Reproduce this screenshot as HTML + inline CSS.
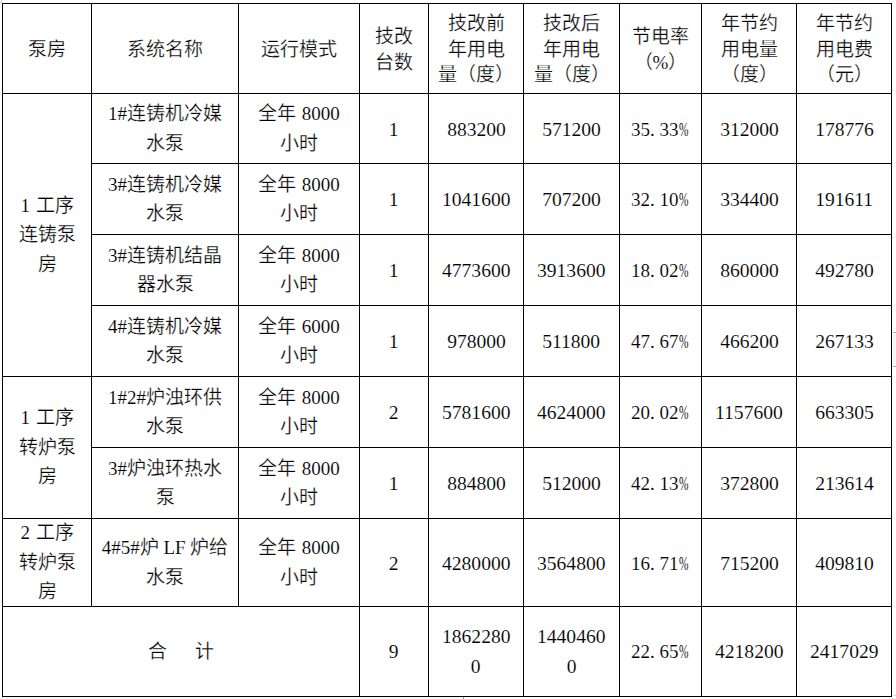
<!DOCTYPE html>
<html lang="zh-CN"><head><meta charset="utf-8">
<style>
html,body{margin:0;padding:0;background:#fff;}
body{width:896px;height:699px;position:relative;overflow:hidden;font-family:"Liberation Serif",serif;font-size:19px;color:#000;-webkit-text-stroke:0.12px #fff;}
.z{-webkit-text-stroke:0.25px #fff;}
.l{position:absolute;background:#000;}
.c{position:absolute;display:flex;flex-direction:column;align-items:center;justify-content:center;white-space:nowrap;}
.n{transform:scaleX(1.03);}
.sp{display:inline-block;width:0.25em;}
.pc{display:inline-block;width:0.5em;transform:scaleX(0.6);transform-origin:left center;}
</style></head><body>
<div class="l" style="left:2px;top:3px;width:890px;height:1px"></div><div class="l" style="left:2px;top:93px;width:890px;height:1px"></div><div class="l" style="left:91px;top:163px;width:801px;height:1px"></div><div class="l" style="left:91px;top:234px;width:801px;height:1px"></div><div class="l" style="left:91px;top:305px;width:801px;height:1px"></div><div class="l" style="left:91px;top:447px;width:801px;height:1px"></div><div class="l" style="left:2px;top:376px;width:890px;height:1px"></div><div class="l" style="left:2px;top:518px;width:890px;height:1px"></div><div class="l" style="left:2px;top:606px;width:890px;height:1px"></div><div class="l" style="left:2px;top:696px;width:890px;height:1px"></div><div class="l" style="left:2px;top:3px;width:1px;height:694px"></div><div style="position:absolute;left:0px;top:1px;width:1px;height:3px;background:#e2e2e2"></div><div style="position:absolute;left:1px;top:0px;width:1px;height:3px;background:#d0d0d0"></div><div style="position:absolute;left:893px;top:333px;width:3px;height:33px;background:#f6f6f6"></div><div style="position:absolute;left:893px;top:332px;width:3px;height:1px;background:#aaaaaa"></div><div style="position:absolute;left:893px;top:366px;width:3px;height:1px;background:#aaaaaa"></div><div style="position:absolute;left:893px;top:695px;width:3px;height:1px;background:#dddddd"></div><div style="position:absolute;left:892px;top:697px;width:1px;height:2px;background:#dddddd"></div><div style="position:absolute;left:0px;top:697px;width:462px;height:2px;background:#f7f7f7"></div><div style="position:absolute;left:463px;top:697px;width:1px;height:2px;background:#999999"></div><div class="l" style="left:91px;top:3px;width:1px;height:604px"></div><div class="l" style="left:238px;top:3px;width:1px;height:604px"></div><div class="l" style="left:359px;top:3px;width:1px;height:694px"></div><div class="l" style="left:428px;top:3px;width:1px;height:694px"></div><div class="l" style="left:523px;top:3px;width:1px;height:694px"></div><div class="l" style="left:619px;top:3px;width:1px;height:694px"></div><div class="l" style="left:701px;top:3px;width:1px;height:694px"></div><div class="l" style="left:796px;top:3px;width:1px;height:694px"></div><div class="l" style="left:891px;top:3px;width:1px;height:694px"></div><div class="c" style="left:3px;top:5px;width:88px;height:89px"><div style="height:25.5px;line-height:25.5px"><span class="z">泵房</span></div></div><div class="c" style="left:92px;top:5px;width:146px;height:89px"><div style="height:25.5px;line-height:25.5px"><span class="z">系统名称</span></div></div><div class="c" style="left:239px;top:5px;width:120px;height:89px"><div style="height:25.5px;line-height:25.5px"><span class="z">运行模式</span></div></div><div class="c" style="left:360px;top:5px;width:68px;height:89px"><div style="height:25.5px;line-height:25.5px"><span class="z">技改</span></div><div style="height:25.5px;line-height:25.5px"><span class="z">台数</span></div></div><div class="c" style="left:429px;top:5px;width:94px;height:89px"><div style="height:25.5px;line-height:25.5px"><span class="z">技改前</span></div><div style="height:25.5px;line-height:25.5px"><span class="z">年用电</span></div><div style="height:25.5px;line-height:25.5px"><span class="z">量（度）</span></div></div><div class="c" style="left:524px;top:5px;width:95px;height:89px"><div style="height:25.5px;line-height:25.5px"><span class="z">技改后</span></div><div style="height:25.5px;line-height:25.5px"><span class="z">年用电</span></div><div style="height:25.5px;line-height:25.5px"><span class="z">量（度）</span></div></div><div class="c" style="left:620px;top:5px;width:81px;height:89px"><div style="height:25.5px;line-height:25.5px"><span class="z">节电率</span></div><div style="height:25.5px;line-height:25.5px"><span class="z">（</span>%<span class="z">）</span></div></div><div class="c" style="left:702px;top:5px;width:94px;height:89px"><div style="height:25.5px;line-height:25.5px"><span class="z">年节约</span></div><div style="height:25.5px;line-height:25.5px"><span class="z">用电量</span></div><div style="height:25.5px;line-height:25.5px"><span class="z">（度）</span></div></div><div class="c" style="left:797px;top:5px;width:94px;height:89px"><div style="height:25.5px;line-height:25.5px"><span class="z">年节约</span></div><div style="height:25.5px;line-height:25.5px"><span class="z">用电费</span></div><div style="height:25.5px;line-height:25.5px"><span class="z">（元）</span></div></div><div class="c" style="left:3px;top:94px;width:88px;height:282px"><div style="height:29.4px;line-height:29.4px">1<span style="display:inline-block;width:5.5px"></span><span class="z">工序</span></div><div style="height:29.4px;line-height:29.4px"><span class="z">连铸泵</span></div><div style="height:29.4px;line-height:29.4px"><span class="z">房</span></div></div><div class="c" style="left:3px;top:377px;width:88px;height:141px"><div style="height:29.4px;line-height:29.4px">1<span style="display:inline-block;width:5.5px"></span><span class="z">工序</span></div><div style="height:29.4px;line-height:29.4px"><span class="z">转炉泵</span></div><div style="height:29.4px;line-height:29.4px"><span class="z">房</span></div></div><div class="c" style="left:3px;top:519px;width:88px;height:87px"><div style="height:29.4px;line-height:29.4px">2<span style="display:inline-block;width:5.5px"></span><span class="z">工序</span></div><div style="height:29.4px;line-height:29.4px"><span class="z">转炉泵</span></div><div style="height:29.4px;line-height:29.4px"><span class="z">房</span></div></div><div class="c" style="left:92px;top:94px;width:146px;height:69px"><div style="height:29.4px;line-height:29.4px">1#<span class="z">连铸机冷媒</span></div><div style="height:29.4px;line-height:29.4px"><span class="z">水泵</span></div></div><div class="c" style="left:239px;top:94px;width:120px;height:69px"><div style="height:29.4px;line-height:29.4px"><span class="z">全年</span><span style="display:inline-block;width:5.5px"></span>8000</div><div style="height:29.4px;line-height:29.4px"><span class="z">小时</span></div></div><div class="c" style="left:360px;top:95px;width:68px;height:69px"><div style="height:29.4px;line-height:29.4px" class="n">1</div></div><div class="c" style="left:429px;top:95px;width:94px;height:69px"><div style="height:29.4px;line-height:29.4px" class="n">883200</div></div><div class="c" style="left:524px;top:95px;width:95px;height:69px"><div style="height:29.4px;line-height:29.4px" class="n">571200</div></div><div class="c" style="left:619px;top:95px;width:81px;height:69px"><div style="height:29.4px;line-height:29.4px">35.<span class="sp"></span>33<span class="pc">%</span></div></div><div class="c" style="left:702px;top:95px;width:94px;height:69px"><div style="height:29.4px;line-height:29.4px" class="n">312000</div></div><div class="c" style="left:797px;top:95px;width:94px;height:69px"><div style="height:29.4px;line-height:29.4px" class="n">178776</div></div><div class="c" style="left:92px;top:164px;width:146px;height:70px"><div style="height:29.4px;line-height:29.4px">3#<span class="z">连铸机冷媒</span></div><div style="height:29.4px;line-height:29.4px"><span class="z">水泵</span></div></div><div class="c" style="left:239px;top:164px;width:120px;height:70px"><div style="height:29.4px;line-height:29.4px"><span class="z">全年</span><span style="display:inline-block;width:5.5px"></span>8000</div><div style="height:29.4px;line-height:29.4px"><span class="z">小时</span></div></div><div class="c" style="left:360px;top:165px;width:68px;height:70px"><div style="height:29.4px;line-height:29.4px" class="n">1</div></div><div class="c" style="left:429px;top:165px;width:94px;height:70px"><div style="height:29.4px;line-height:29.4px" class="n">1041600</div></div><div class="c" style="left:524px;top:165px;width:95px;height:70px"><div style="height:29.4px;line-height:29.4px" class="n">707200</div></div><div class="c" style="left:619px;top:165px;width:81px;height:70px"><div style="height:29.4px;line-height:29.4px">32.<span class="sp"></span>10<span class="pc">%</span></div></div><div class="c" style="left:702px;top:165px;width:94px;height:70px"><div style="height:29.4px;line-height:29.4px" class="n">334400</div></div><div class="c" style="left:797px;top:165px;width:94px;height:70px"><div style="height:29.4px;line-height:29.4px" class="n">191611</div></div><div class="c" style="left:92px;top:235px;width:146px;height:70px"><div style="height:29.4px;line-height:29.4px">3#<span class="z">连铸机结晶</span></div><div style="height:29.4px;line-height:29.4px"><span class="z">器水泵</span></div></div><div class="c" style="left:239px;top:235px;width:120px;height:70px"><div style="height:29.4px;line-height:29.4px"><span class="z">全年</span><span style="display:inline-block;width:5.5px"></span>8000</div><div style="height:29.4px;line-height:29.4px"><span class="z">小时</span></div></div><div class="c" style="left:360px;top:236px;width:68px;height:70px"><div style="height:29.4px;line-height:29.4px" class="n">1</div></div><div class="c" style="left:429px;top:236px;width:94px;height:70px"><div style="height:29.4px;line-height:29.4px" class="n">4773600</div></div><div class="c" style="left:524px;top:236px;width:95px;height:70px"><div style="height:29.4px;line-height:29.4px" class="n">3913600</div></div><div class="c" style="left:619px;top:236px;width:81px;height:70px"><div style="height:29.4px;line-height:29.4px">18.<span class="sp"></span>02<span class="pc">%</span></div></div><div class="c" style="left:702px;top:236px;width:94px;height:70px"><div style="height:29.4px;line-height:29.4px" class="n">860000</div></div><div class="c" style="left:797px;top:236px;width:94px;height:70px"><div style="height:29.4px;line-height:29.4px" class="n">492780</div></div><div class="c" style="left:92px;top:306px;width:146px;height:70px"><div style="height:29.4px;line-height:29.4px">4#<span class="z">连铸机冷媒</span></div><div style="height:29.4px;line-height:29.4px"><span class="z">水泵</span></div></div><div class="c" style="left:239px;top:306px;width:120px;height:70px"><div style="height:29.4px;line-height:29.4px"><span class="z">全年</span><span style="display:inline-block;width:5.5px"></span>6000</div><div style="height:29.4px;line-height:29.4px"><span class="z">小时</span></div></div><div class="c" style="left:360px;top:307px;width:68px;height:70px"><div style="height:29.4px;line-height:29.4px" class="n">1</div></div><div class="c" style="left:429px;top:307px;width:94px;height:70px"><div style="height:29.4px;line-height:29.4px" class="n">978000</div></div><div class="c" style="left:524px;top:307px;width:95px;height:70px"><div style="height:29.4px;line-height:29.4px" class="n">511800</div></div><div class="c" style="left:619px;top:307px;width:81px;height:70px"><div style="height:29.4px;line-height:29.4px">47.<span class="sp"></span>67<span class="pc">%</span></div></div><div class="c" style="left:702px;top:307px;width:94px;height:70px"><div style="height:29.4px;line-height:29.4px" class="n">466200</div></div><div class="c" style="left:797px;top:307px;width:94px;height:70px"><div style="height:29.4px;line-height:29.4px" class="n">267133</div></div><div class="c" style="left:92px;top:377px;width:146px;height:70px"><div style="height:29.4px;line-height:29.4px">1#2#<span class="z">炉浊环供</span></div><div style="height:29.4px;line-height:29.4px"><span class="z">水泵</span></div></div><div class="c" style="left:239px;top:377px;width:120px;height:70px"><div style="height:29.4px;line-height:29.4px"><span class="z">全年</span><span style="display:inline-block;width:5.5px"></span>8000</div><div style="height:29.4px;line-height:29.4px"><span class="z">小时</span></div></div><div class="c" style="left:360px;top:378px;width:68px;height:70px"><div style="height:29.4px;line-height:29.4px" class="n">2</div></div><div class="c" style="left:429px;top:378px;width:94px;height:70px"><div style="height:29.4px;line-height:29.4px" class="n">5781600</div></div><div class="c" style="left:524px;top:378px;width:95px;height:70px"><div style="height:29.4px;line-height:29.4px" class="n">4624000</div></div><div class="c" style="left:619px;top:378px;width:81px;height:70px"><div style="height:29.4px;line-height:29.4px">20.<span class="sp"></span>02<span class="pc">%</span></div></div><div class="c" style="left:702px;top:378px;width:94px;height:70px"><div style="height:29.4px;line-height:29.4px" class="n">1157600</div></div><div class="c" style="left:797px;top:378px;width:94px;height:70px"><div style="height:29.4px;line-height:29.4px" class="n">663305</div></div><div class="c" style="left:92px;top:448px;width:146px;height:70px"><div style="height:29.4px;line-height:29.4px">3#<span class="z">炉浊环热水</span></div><div style="height:29.4px;line-height:29.4px"><span class="z">泵</span></div></div><div class="c" style="left:239px;top:448px;width:120px;height:70px"><div style="height:29.4px;line-height:29.4px"><span class="z">全年</span><span style="display:inline-block;width:5.5px"></span>8000</div><div style="height:29.4px;line-height:29.4px"><span class="z">小时</span></div></div><div class="c" style="left:360px;top:449px;width:68px;height:70px"><div style="height:29.4px;line-height:29.4px" class="n">1</div></div><div class="c" style="left:429px;top:449px;width:94px;height:70px"><div style="height:29.4px;line-height:29.4px" class="n">884800</div></div><div class="c" style="left:524px;top:449px;width:95px;height:70px"><div style="height:29.4px;line-height:29.4px" class="n">512000</div></div><div class="c" style="left:619px;top:449px;width:81px;height:70px"><div style="height:29.4px;line-height:29.4px">42.<span class="sp"></span>13<span class="pc">%</span></div></div><div class="c" style="left:702px;top:449px;width:94px;height:70px"><div style="height:29.4px;line-height:29.4px" class="n">372800</div></div><div class="c" style="left:797px;top:449px;width:94px;height:70px"><div style="height:29.4px;line-height:29.4px" class="n">213614</div></div><div class="c" style="left:92px;top:519px;width:146px;height:87px"><div style="height:29.4px;line-height:29.4px">4#5#<span class="z">炉</span> LF <span class="z">炉给</span></div><div style="height:29.4px;line-height:29.4px"><span class="z">水泵</span></div></div><div class="c" style="left:239px;top:519px;width:120px;height:87px"><div style="height:29.4px;line-height:29.4px"><span class="z">全年</span><span style="display:inline-block;width:5.5px"></span>8000</div><div style="height:29.4px;line-height:29.4px"><span class="z">小时</span></div></div><div class="c" style="left:360px;top:520px;width:68px;height:87px"><div style="height:29.4px;line-height:29.4px" class="n">2</div></div><div class="c" style="left:429px;top:520px;width:94px;height:87px"><div style="height:29.4px;line-height:29.4px" class="n">4280000</div></div><div class="c" style="left:524px;top:520px;width:95px;height:87px"><div style="height:29.4px;line-height:29.4px" class="n">3564800</div></div><div class="c" style="left:619px;top:520px;width:81px;height:87px"><div style="height:29.4px;line-height:29.4px">16.<span class="sp"></span>71<span class="pc">%</span></div></div><div class="c" style="left:702px;top:520px;width:94px;height:87px"><div style="height:29.4px;line-height:29.4px" class="n">715200</div></div><div class="c" style="left:797px;top:520px;width:94px;height:87px"><div style="height:29.4px;line-height:29.4px" class="n">409810</div></div><div class="c" style="left:3px;top:607px;width:356px;height:89px"><div style="height:29.4px;line-height:29.4px"><span class="z">合</span><span style="display:inline-block;width:28.5px"></span><span class="z">计</span></div></div><div class="c" style="left:360px;top:607px;width:68px;height:89px"><div style="height:29.4px;line-height:29.4px" class="n">9</div></div><div class="c" style="left:429px;top:607px;width:94px;height:89px"><div style="height:29.4px;line-height:29.4px" class="n">1862280</div><div style="height:29.4px;line-height:29.4px" class="n">0</div></div><div class="c" style="left:524px;top:607px;width:95px;height:89px"><div style="height:29.4px;line-height:29.4px" class="n">1440460</div><div style="height:29.4px;line-height:29.4px" class="n">0</div></div><div class="c" style="left:619px;top:607px;width:81px;height:89px"><div style="height:29.4px;line-height:29.4px">22.<span class="sp"></span>65<span class="pc">%</span></div></div><div class="c" style="left:702px;top:607px;width:94px;height:89px"><div style="height:29.4px;line-height:29.4px" class="n">4218200</div></div><div class="c" style="left:797px;top:607px;width:94px;height:89px"><div style="height:29.4px;line-height:29.4px" class="n">2417029</div></div>
</body></html>
